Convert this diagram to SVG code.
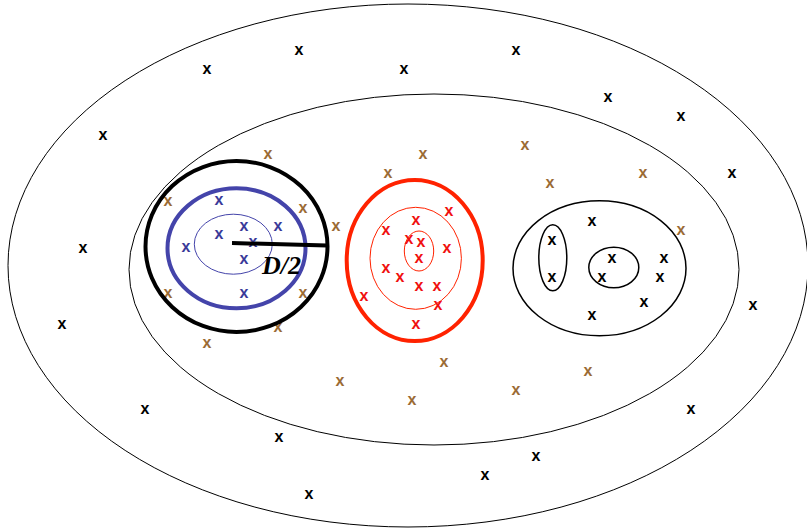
<svg xmlns="http://www.w3.org/2000/svg" width="807" height="529" viewBox="0 0 807 529">
<style>
.x{font-family:"Liberation Sans",Arial,sans-serif;font-size:16px;font-weight:bold;text-anchor:middle}
.k{fill:#000}
.b{fill:#9B6B35}
.u{fill:#3A3A99}
.r{fill:#F01010}
.thin{fill:none;stroke:#000;stroke-width:1}
.lab{font-family:"Liberation Serif","Times New Roman",serif;font-size:26px;font-style:italic;font-weight:bold;fill:#000}
</style>
<rect width="807" height="529" fill="#fff"/>
<g id="outer">
<ellipse class="thin" cx="408" cy="265.5" rx="400" ry="261.5"/>
<g>
<text class="x k" x="299" y="55">x</text>
<text class="x k" x="516" y="55">x</text>
<text class="x k" x="207" y="74">x</text>
<text class="x k" x="404" y="74">x</text>
<text class="x k" x="608" y="102">x</text>
<text class="x k" x="681" y="121">x</text>
<text class="x k" x="103" y="140">x</text>
<text class="x k" x="732" y="178">x</text>
<text class="x k" x="83" y="253">x</text>
<text class="x k" x="753" y="310">x</text>
<text class="x k" x="62" y="329">x</text>
<text class="x k" x="145" y="414">x</text>
<text class="x k" x="691" y="414">x</text>
<text class="x k" x="279" y="442">x</text>
<text class="x k" x="536" y="461">x</text>
<text class="x k" x="485" y="480">x</text>
<text class="x k" x="309" y="499">x</text>
</g>
</g>
<g id="inner">
<ellipse class="thin" cx="434" cy="269.5" rx="305" ry="175.5"/>
<g>
<text class="x b" x="268" y="159">x</text>
<text class="x b" x="423" y="159">x</text>
<text class="x b" x="525" y="150">x</text>
<text class="x b" x="388" y="178">x</text>
<text class="x b" x="550" y="188">x</text>
<text class="x b" x="643" y="178">x</text>
<text class="x b" x="168" y="206">x</text>
<text class="x b" x="303" y="213">x</text>
<text class="x b" x="336" y="231">x</text>
<text class="x b" x="681" y="235">x</text>
<text class="x b" x="168" y="298">x</text>
<text class="x b" x="303" y="298">x</text>
<text class="x b" x="278" y="332">x</text>
<text class="x b" x="207" y="348">x</text>
<text class="x b" x="444" y="367">x</text>
<text class="x b" x="340" y="386">x</text>
<text class="x b" x="588" y="376">x</text>
<text class="x b" x="516" y="395">x</text>
<text class="x b" x="412" y="405">x</text>
</g>
</g>
<g id="blue-cluster">
<ellipse cx="236.5" cy="246.5" rx="91" ry="85.5" fill="none" stroke="#000" stroke-width="4"/>
<ellipse cx="236.5" cy="248.3" rx="69" ry="60" fill="none" stroke="#4444AA" stroke-width="4"/>
<ellipse cx="233.3" cy="244.2" rx="39" ry="30" fill="none" stroke="#4444AA" stroke-width="1"/>
<text class="x u" x="219" y="205">x</text>
<text class="x u" x="219" y="239">x</text>
<text class="x u" x="244" y="231">x</text>
<text class="x u" x="278" y="231">x</text>
<text class="x u" x="186" y="252">x</text>
<text class="x u" x="253" y="247">x</text>
<text class="x u" x="244" y="264">x</text>
<text class="x u" x="244" y="298">x</text>
<line x1="232" y1="243" x2="327" y2="245.5" stroke="#000" stroke-width="4"/>
<text class="lab" x="262" y="274">D/2</text>
</g>
<g id="red-cluster">
<ellipse cx="414.7" cy="260.5" rx="68" ry="80.5" fill="none" stroke="#FF2200" stroke-width="4"/>
<ellipse cx="415.7" cy="258.3" rx="45.7" ry="51" fill="none" stroke="#FF2200" stroke-width="1"/>
<ellipse cx="419" cy="251" rx="14.7" ry="20" fill="none" stroke="#FF2200" stroke-width="1"/>
<text class="x r" x="416" y="225">x</text>
<text class="x r" x="449" y="216">x</text>
<text class="x r" x="386" y="235">x</text>
<text class="x r" x="409" y="244">x</text>
<text class="x r" x="421" y="247">x</text>
<text class="x r" x="447" y="253">x</text>
<text class="x r" x="419" y="263">x</text>
<text class="x r" x="386" y="273">x</text>
<text class="x r" x="400" y="282">x</text>
<text class="x r" x="419" y="291">x</text>
<text class="x r" x="437" y="291">x</text>
<text class="x r" x="364" y="301">x</text>
<text class="x r" x="438" y="310">x</text>
<text class="x r" x="416" y="329">x</text>
</g>
<g id="black-cluster">
<ellipse cx="599.5" cy="268.3" rx="86.5" ry="67.5" fill="none" stroke="#000" stroke-width="1.5"/>
<ellipse cx="552.8" cy="257.8" rx="14" ry="33" fill="none" stroke="#000" stroke-width="1.5"/>
<ellipse cx="613.8" cy="267.5" rx="25" ry="20.3" fill="none" stroke="#000" stroke-width="1.5"/>
<text class="x k" x="592" y="226">x</text>
<text class="x k" x="552" y="245">x</text>
<text class="x k" x="552" y="282">x</text>
<text class="x k" x="612" y="263">x</text>
<text class="x k" x="602" y="282">x</text>
<text class="x k" x="664" y="263">x</text>
<text class="x k" x="660" y="282">x</text>
<text class="x k" x="644" y="307">x</text>
<text class="x k" x="592" y="320">x</text>
</g>
<g id="connectors"></g>
</svg>
